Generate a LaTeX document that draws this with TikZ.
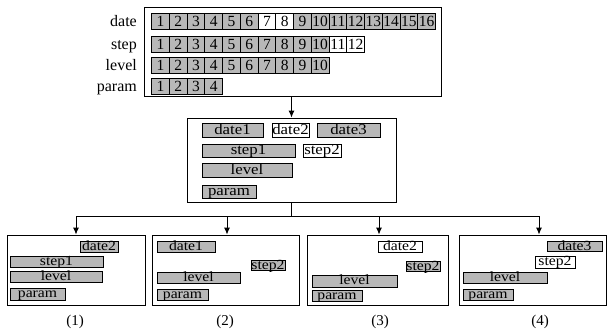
\documentclass[tikz,border=0pt]{standalone}
\usepackage{fontspec}
\setmainfont{Liberation Serif}
\newfontfamily\widefont[FakeStretch=1.12]{Liberation Serif}
\usetikzlibrary{arrows.meta}
\definecolor{cellgray}{gray}{0.72}
\tikzset{
  x=1pt, y=-1pt,
  frame/.style={draw, line width=0.9pt, inner sep=0pt},
  cellg/.style={draw, line width=1pt, fill=cellgray, inner sep=0pt,
     minimum width=17.75pt, minimum height=16pt, text height=11pt, text depth=0pt,
     font=\fontsize{15.5}{15.5}\selectfont},
  cellw/.style={cellg, fill=white},
  gbox/.style={draw, line width=1pt, fill=cellgray, inner sep=0pt, text height=10pt, text depth=2pt,
     font=\widefont\fontsize{15}{15}\selectfont},
  wbox/.style={gbox, fill=white},
  sgbox/.style={gbox, text height=9pt, text depth=1.5pt, font=\widefont\fontsize{14}{14}\selectfont},
  swbox/.style={sgbox, fill=white},
  rowlab/.style={anchor=base east, inner sep=0pt, font=\fontsize{16}{16}\selectfont},
  captxt/.style={inner sep=0pt, font=\fontsize{15}{15}\selectfont},
  conn/.style={line width=0.9pt},
  arr/.style={conn, -{Latex[length=7pt,width=6pt]}}
}
\begin{document}
\begin{tikzpicture}
\useasboundingbox (0,0) rectangle (609,332);
% top frame
\node[frame, minimum width=297pt, minimum height=89pt] (top) at (292.5,51.5) {};
\node[rowlab] (ldate) at (137,26.5) {date};
\node[rowlab] (lstep) at (137,49) {step};
\node[rowlab] (llevel) at (137,70.5) {level};
\node[rowlab] (lparam) at (137,91.5) {param};
% date row
\foreach \i in {1,...,16}{
  \ifnum\i=7 \def\st{cellw}\else\ifnum\i=8 \def\st{cellw}\else\def\st{cellg}\fi\fi
  \node[\st] (d\i) at ({151.5+17.75*(\i-0.5)},21) {\i};
}
% step row
\foreach \i in {1,...,12}{
  \ifnum\i>10 \def\st{cellw}\else\def\st{cellg}\fi
  \node[\st] (s\i) at ({151.5+17.75*(\i-0.5)},44) {\i};
}
% level row
\foreach \i in {1,...,10}{
  \node[cellg] (l\i) at ({151.5+17.75*(\i-0.5)},65) {\i};
}
% param row
\foreach \i in {1,...,4}{
  \node[cellg] (p\i) at ({151.5+17.75*(\i-0.5)},86) {\i};
}
% middle frame
\node[frame, minimum width=209pt, minimum height=84pt] (mid) at (291.5,160) {};
\node[gbox, minimum width=61pt, minimum height=14pt] (mdate1) at (232.5,130) {date1};
\node[wbox, minimum width=37pt, minimum height=14pt] (mdate2) at (290.5,130) {date2};
\node[gbox, minimum width=63pt, minimum height=14pt] (mdate3) at (348.5,130) {date3};
\node[gbox, minimum width=93pt, minimum height=13pt] (mstep1) at (248.5,150.5) {step1};
\node[wbox, minimum width=38pt, minimum height=13pt] (mstep2) at (322,150.5) {step2};
\node[gbox, minimum width=90pt, minimum height=14pt] (mlevel) at (247,170) {level};
\node[gbox, minimum width=54pt, minimum height=13pt] (mparam) at (229,191.5) {param};
% bottom frames
\node[frame, minimum width=138pt, minimum height=70pt] (b1) at (76,270) {};
\node[frame, minimum width=147pt, minimum height=70pt] (b2) at (225.5,270) {};
\node[frame, minimum width=141pt, minimum height=70pt] (b3) at (377.5,270) {};
\node[frame, minimum width=147pt, minimum height=70pt] (b4) at (532.5,270) {};
% box 1
\node[sgbox, minimum width=38pt, minimum height=11pt] (adate) at (99,247) {date2};
\node[sgbox, minimum width=93pt, minimum height=11pt] (astep) at (56.5,261.5) {step1};
\node[sgbox, minimum width=92pt, minimum height=11pt] (alevel) at (56,277) {level};
\node[sgbox, minimum width=55pt, minimum height=12pt] (aparam) at (37.5,294) {param};
% box 2
\node[sgbox, minimum width=58pt, minimum height=11pt] (bdate) at (186,246.5) {date1};
\node[sgbox, minimum width=34pt, minimum height=10pt] (bstep) at (268,265.5) {step2};
\node[sgbox, minimum width=83pt, minimum height=10pt] (blevel) at (198.5,278) {level};
\node[sgbox, minimum width=51pt, minimum height=11pt] (bparam) at (182.5,294.5) {param};
% box 3
\node[swbox, minimum width=44pt, minimum height=10pt] (cdate) at (400,247) {date2};
\node[sgbox, minimum width=34pt, minimum height=10pt] (cstep) at (423,266.5) {step2};
\node[sgbox, minimum width=85pt, minimum height=12pt] (clevel) at (354.5,281) {level};
\node[sgbox, minimum width=50pt, minimum height=11pt] (cparam) at (337,295.5) {param};
% box 4
\node[sgbox, minimum width=55pt, minimum height=10pt] (ddate) at (574.5,246.5) {date3};
\node[swbox, minimum width=40pt, minimum height=12pt] (dstep) at (555,262) {step2};
\node[sgbox, minimum width=84pt, minimum height=11pt] (dlevel) at (505,277.5) {level};
\node[sgbox, minimum width=50pt, minimum height=11pt] (dparam) at (488,294.5) {param};
% captions
\node[captxt] (c1) at (75,322) {(1)};
\node[captxt] (c2) at (225,322) {(2)};
\node[captxt] (c3) at (380,322) {(3)};
\node[captxt] (c4) at (540,322) {(4)};
% connectors
\draw[arr] (top.south -| mid.north) -- (mid.north);
\coordinate (j) at (mid.south |- 0,216);
\draw[conn] (mid.south) -- (j);
\draw[arr] (j) -| (b1.north);
\draw[arr] (j) -| ([xshift=1.5pt]b2.north);
\draw[arr] (j) -| ([xshift=1.5pt]b3.north);
\draw[arr] (j) -| ([xshift=6.5pt]b4.north);
\end{tikzpicture}
\end{document}
